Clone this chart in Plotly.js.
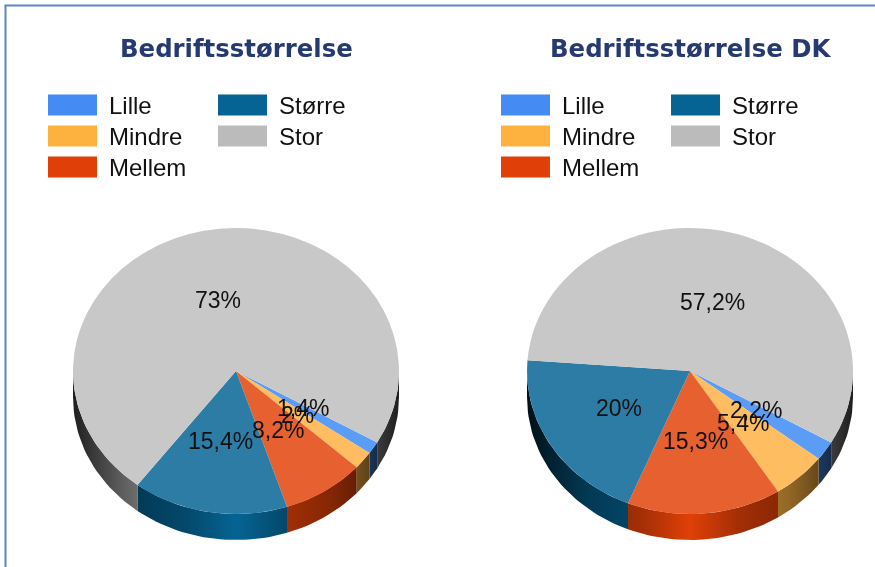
<!DOCTYPE html>
<html>
<head>
<meta charset="utf-8">
<script src="https://cdn.plot.ly/plotly-3.0.1.min.js"></script>
<style>
html,body{margin:0;padding:0;background:#fff;overflow:hidden}
#chart{width:875px;height:567px;filter:blur(0.55px)}
</style>
</head>
<body>
<div id="chart"></div>
<script>
var categories = ['Lille','Mindre','Mellem','Større','Stor'];
var valuesLeft = [1.4, 2, 8.2, 15.4, 73];
var valuesRight = [2.2, 5.4, 15.3, 20, 57.2];
var titleLeft = 'Bedriftsstørrelse';
var titleRight = 'Bedriftsstørrelse DK';
var legendColors = ['#448cf4','#fdb240','#e04008','#056494','#bbbbbb'];
var topColors = ['#5b9cf6','#fdbd60','#e66030','#2d7ca5','#c8c8c8'];
var wallRgb = [[68,140,244],[253,178,64],[224,64,8],[5,100,148],[187,187,187]];
var W = 875, H = 567, RX = 163, RY = 143, DEPTH = 26, CY = 371, ROT = 120;
var shadeT = [0, 0.31, 0.53, 0.61, 0.75, 1];
var shadeF = [1, 0.72, 0.62, 0.58, 0.45, 0.16];

function factor(t){
  for(var i=1;i<shadeT.length;i++){
    if(t<=shadeT[i]){var u=(t-shadeT[i-1])/(shadeT[i]-shadeT[i-1]);return shadeF[i-1]+u*(shadeF[i]-shadeF[i-1]);}
  }
  return shadeF[shadeF.length-1];
}
function scaleFor(rgb){
  var out=[];
  for(var i=0;i<=20;i++){
    var p=i/20,f=factor(Math.abs(2*p-1));
    out.push([p,'rgb('+rgb.map(function(c){return Math.round(c*f);}).join(',')+')']);
  }
  return out;
}
function pt(cx,deg){var a=deg*Math.PI/180;return [cx+RX*Math.sin(a),CY-RY*Math.cos(a)];}

var traces=[], annotations=[], shapes=[];

function addPie(values,cx,title,legendOffset){
  var total=values.reduce(function(a,b){return a+b;},0), a0=ROT;
  values.forEach(function(v,i){
    var a1=a0+360*v/total;
    [0,360].forEach(function(off){
      var s=Math.max(a0,90+off), e=Math.min(a1,270+off);
      if(e<=s) return;
      var xs=[],ys=[],n=Math.max(4,Math.ceil((e-s)/2)),j,p;
      for(j=0;j<=n;j++){p=pt(cx,s+(e-s)*j/n);xs.push(p[0]);ys.push(p[1]);}
      for(j=n;j>=0;j--){p=pt(cx,s+(e-s)*j/n);xs.push(p[0]);ys.push(p[1]+DEPTH);}
      xs.push(xs[0]);ys.push(ys[0]);
      traces.push({type:'scatter',mode:'lines',x:xs,y:ys,fill:'toself',line:{width:0},
        fillgradient:{type:'horizontal',colorscale:scaleFor(wallRgb[i]),start:cx-RX,stop:cx+RX},
        hoverinfo:'skip',showlegend:false});
    });
    var mid=(a0+a1)/2, m=mid*Math.PI/180;
    annotations.push({xref:'x',yref:'y',x:cx+0.5*RX*Math.sin(m)-2,y:CY-0.5*RY*Math.cos(m)-1,
      text:String(v).replace('.',',')+'%',showarrow:false,xanchor:'center',yanchor:'middle',
      font:{family:'Liberation Sans, Arial, sans-serif',size:23,color:'#111111'}});
    a0=a1;
  });
  traces.push({type:'pie',labels:categories,values:values,sort:false,direction:'clockwise',rotation:ROT,
    marker:{colors:topColors,line:{width:0}},textinfo:'none',hoverinfo:'label+percent',showlegend:false,
    domain:{x:[(cx-RX)/W,(cx+RX)/W],y:[(H-CY-RX)/H,(H-CY+RX)/H]}});
  annotations.push({xref:'x',yref:'y',x:cx,y:48,text:'<b>'+title+'</b>',showarrow:false,xanchor:'center',yanchor:'middle',
    font:{family:'DejaVu Sans, Verdana, sans-serif',size:24.4,color:'#263a72'}});
  categories.forEach(function(c,i){
    var col=i<3?0:1,row=i<3?i:i-3,x0=48+legendOffset+col*170,yc=105+row*31;
    shapes.push({type:'rect',xref:'x',yref:'y',x0:x0,x1:x0+49,y0:yc-10.5,y1:yc+10.5,fillcolor:legendColors[i],line:{width:0}});
    annotations.push({xref:'x',yref:'y',x:x0+61,y:yc,text:c,showarrow:false,xanchor:'left',yanchor:'middle',
      font:{family:'Liberation Sans, Arial, sans-serif',size:24,color:'#111111'},xshift:-2});
  });
}
addPie(valuesLeft,236,titleLeft,0);
addPie(valuesRight,690,titleRight,453);

shapes.push({type:'line',xref:'x',yref:'y',x0:5.5,x1:5.5,y0:5.5,y1:H,line:{color:'#5b88c4',width:2}});
shapes.push({type:'line',xref:'x',yref:'y',x0:4.5,x1:W,y0:5.5,y1:5.5,line:{color:'#5b88c4',width:2}});

var layout={width:W,height:H,margin:{l:0,r:0,t:0,b:0},paper_bgcolor:'#fff',plot_bgcolor:'#fff',showlegend:false,
  xaxis:{range:[0,W],visible:false,fixedrange:true},
  yaxis:{range:[H,0],visible:false,fixedrange:true},
  shapes:shapes,annotations:annotations};

var gd=document.getElementById('chart');
function flatten(){
  var k=RY/RX;
  gd.querySelectorAll('.pielayer .trace').forEach(function(g){
    g.setAttribute('transform','translate(0,'+CY+') scale(1,'+k+') translate(0,'+(-CY)+')');
  });
}
Plotly.newPlot(gd,traces,layout,{displayModeBar:false,staticPlot:true}).then(function(){
  flatten();
  gd.on('plotly_afterplot',flatten);
});
</script>
</body>
</html>
